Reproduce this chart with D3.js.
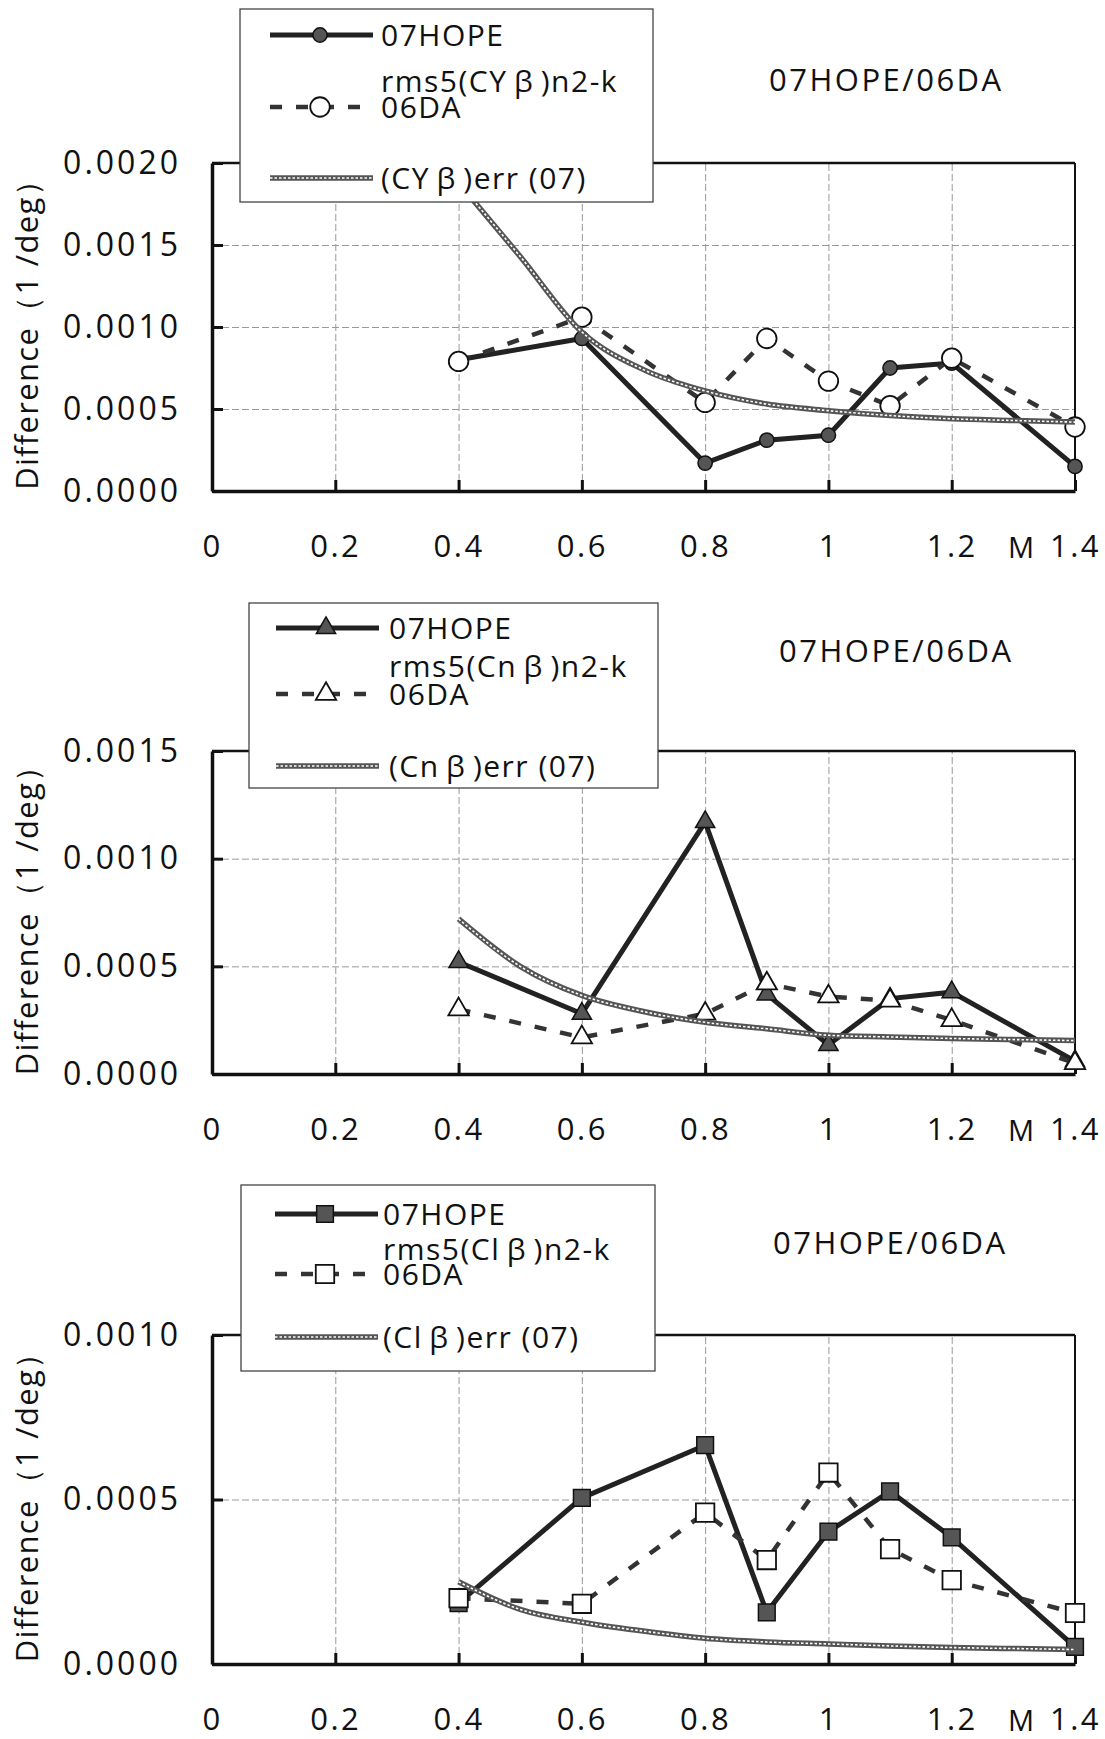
<!DOCTYPE html>
<html>
<head>
<meta charset="utf-8">
<script src="https://cdn.jsdelivr.net/npm/d3@7"></script>
<style>
  body { margin: 0; background: #fff; }
  text { font-family: "Open Sans", "Noto Sans", sans-serif; fill: #111; }
</style>
</head>
<body>
<script>
// Mach numbers of the measured points
var mach = [0.4, 0.6, 0.8, 0.9, 1.0, 1.1, 1.2, 1.4];
// Mach numbers of the error curve
var machErr = [0.4, 0.5, 0.6, 0.7, 0.8, 0.9, 1.0, 1.1, 1.2, 1.3, 1.4];

var xTicks = [0, 0.2, 0.4, 0.6, 0.8, 1, 1.2, 1.4];
var xTickLabels = ["0", "0.2", "0.4", "0.6", "0.8", "1", "1.2", "1.4"];

// CY beta
var cyHope = [0.00080, 0.00093, 0.00017, 0.00031, 0.00034, 0.00075, 0.00078, 0.00015];
var cyDa   = [0.00079, 0.00106, 0.00054, 0.00093, 0.00067, 0.00052, 0.00081, 0.00039];
var cyErr  = [0.00188, 0.00143, 0.00097, 0.00074, 0.00061, 0.00053, 0.00049, 0.00046, 0.00044, 0.00043, 0.00042];
var cyTicks = [0, 0.0005, 0.0010, 0.0015, 0.0020];

// Cn beta
var cnHope = [0.00052, 0.00028, 0.00117, 0.00037, 0.000135, 0.00035, 0.00038, 0.00006];
var cnDa   = [0.00030, 0.00017, 0.00028, 0.00042, 0.00036, 0.00034, 0.00025, 0.00005];
var cnErr  = [0.00072, 0.00050, 0.000365, 0.00029, 0.00024, 0.00021, 0.00018, 0.000172, 0.000165, 0.00016, 0.000155];
var cnTicks = [0, 0.0005, 0.0010, 0.0015];

// Cl beta
var clHope = [0.000185, 0.000505, 0.000665, 0.000157, 0.000402, 0.000525, 0.000385, 0.000052];
var clDa   = [0.000200, 0.000183, 0.000460, 0.000316, 0.000582, 0.000349, 0.000255, 0.000155];
var clErr  = [0.00025, 0.000166, 0.000127, 0.000100, 0.000078, 0.000067, 0.000061, 0.000055, 0.000050, 0.000047, 0.000044];
var clTicks = [0, 0.0005, 0.0010];

var titleText = "07HOPE/06DA";
var yTitle = "Difference\uFF081 /deg\uFF09";

var svg = d3.select("body").append("svg")
    .attr("width", 1105)
    .attr("height", 1739);

var x = d3.scaleLinear().domain([0, 1.4]).range([212, 1075]);

var panels = [
    { top: 163, bottom: 491, ymax: 0.0020, ticks: cyTicks, hope: cyHope, da: cyDa, err: cyErr,
      coef: "CY", shape: d3.symbolCircle, fillSize: 160, openSize: 300,
      title: [769, 80],
      legend: { x: 240, y: 9, w: 413, h: 193, e1: 35, rms: 81, da: 107, e3: 178, lx: 270, tx: 381 } },
    { top: 751, bottom: 1074, ymax: 0.0015, ticks: cnTicks, hope: cnHope, da: cnDa, err: cnErr,
      coef: "Cn", shape: d3.symbolTriangle, fillSize: 160, openSize: 180,
      title: [779, 651],
      legend: { x: 249, y: 603, w: 409, h: 185, e1: 628, rms: 666, da: 694, e3: 766, lx: 276, tx: 389 } },
    { top: 1335, bottom: 1664, ymax: 0.0010, ticks: clTicks, hope: clHope, da: clDa, err: clErr,
      coef: "Cl", shape: d3.symbolSquare, fillSize: 280, openSize: 340,
      title: [773, 1243],
      legend: { x: 241, y: 1185, w: 414, h: 186, e1: 1214, rms: 1249, da: 1274, e3: 1337, lx: 275, tx: 383 } }
];

// draw a "chain" style line used for the err curve
var drawChain = function (g, d) {
    g.append("path").attr("d", d)
        .attr("fill", "none").attr("stroke", "#555").attr("stroke-width", 5.5);
    g.append("path").attr("d", d)
        .attr("fill", "none").attr("stroke", "#fff").attr("stroke-width", 1.6)
        .attr("stroke-dasharray", "2.5,2");
};

panels.forEach(function (p) {
    var y = d3.scaleLinear().domain([0, p.ymax]).range([p.bottom, p.top]);
    var g = svg.append("g");
    var left = x(0), right = x(1.4);

    // gridlines
    g.append("g")
        .attr("transform", "translate(0," + p.bottom + ")")
        .call(d3.axisBottom(x).tickValues(xTicks.slice(1, -1)).tickSize(-(p.bottom - p.top)).tickFormat(""))
        .call(function (s) { s.select(".domain").remove(); })
        .selectAll("line").attr("stroke", "#999").attr("stroke-width", 1).attr("stroke-dasharray", "7,3");
    g.append("g")
        .attr("transform", "translate(" + left + ",0)")
        .call(d3.axisLeft(y).tickValues(p.ticks.slice(1, -1)).tickSize(-(right - left)).tickFormat(""))
        .call(function (s) { s.select(".domain").remove(); })
        .selectAll("line").attr("stroke", "#999").attr("stroke-width", 1).attr("stroke-dasharray", "7,3");

    // frame top/right
    g.append("line").attr("x1", left).attr("x2", right).attr("y1", p.top).attr("y2", p.top)
        .attr("stroke", "#111").attr("stroke-width", 2.5);
    g.append("line").attr("x1", right).attr("x2", right).attr("y1", p.top).attr("y2", p.bottom)
        .attr("stroke", "#111").attr("stroke-width", 2);

    // axes
    var xa = g.append("g")
        .attr("transform", "translate(0," + p.bottom + ")")
        .call(d3.axisBottom(x).tickValues(xTicks)
            .tickFormat(function (d, i) { return xTickLabels[i]; })
            .tickSizeInner(-11).tickSizeOuter(0).tickPadding(44));
    xa.select(".domain").attr("stroke", "#111").attr("stroke-width", 3.5);
    xa.selectAll(".tick line").attr("stroke", "#111").attr("stroke-width", 3);
    xa.selectAll("text").attr("font-size", 31).attr("letter-spacing", 2.5)
        .attr("font-family", "Open Sans").attr("fill", "#111");
    xa.append("text").attr("x", 1021).attr("y", 46).attr("dy", "0.71em")
        .attr("text-anchor", "middle").attr("font-size", 29).attr("font-family", "Open Sans")
        .attr("fill", "#111").text("M");

    var ya = g.append("g")
        .attr("transform", "translate(" + left + ",0)")
        .call(d3.axisLeft(y).tickValues(p.ticks).tickFormat(d3.format(".4f"))
            .tickSizeInner(-11).tickSizeOuter(0).tickPadding(31));
    ya.select(".domain").attr("stroke", "#111").attr("stroke-width", 3.5);
    ya.selectAll(".tick line").attr("stroke", "#111").attr("stroke-width", 3);
    ya.selectAll("text").attr("font-size", 32).attr("letter-spacing", 3)
        .attr("font-family", "Open Sans").attr("fill", "#111");

    // y title
    g.append("text")
        .attr("transform", "translate(38," + ((p.top + p.bottom) / 2) + ") rotate(-90)")
        .attr("text-anchor", "middle")
        .attr("font-size", 31)
        .attr("letter-spacing", 1.3)
        .text(yTitle);

    // series
    var line = d3.line().x(function (d) { return x(d[0]); }).y(function (d) { return y(d[1]); });
    var hopePts = d3.zip(mach, p.hope), daPts = d3.zip(mach, p.da), errPts = d3.zip(machErr, p.err);

    g.append("path").attr("d", line(hopePts))
        .attr("fill", "none").attr("stroke", "#222").attr("stroke-width", 5);
    g.selectAll(".hm").data(hopePts).enter().append("path")
        .attr("transform", function (d) { return "translate(" + x(d[0]) + "," + y(d[1]) + ")"; })
        .attr("d", d3.symbol().type(p.shape).size(p.fillSize))
        .attr("fill", "#555").attr("stroke", "#111").attr("stroke-width", 1.5);

    g.append("path").attr("d", line(daPts))
        .attr("fill", "none").attr("stroke", "#333").attr("stroke-width", 4.5)
        .attr("stroke-dasharray", "12,14");
    g.selectAll(".dm").data(daPts).enter().append("path")
        .attr("transform", function (d) { return "translate(" + x(d[0]) + "," + y(d[1]) + ")"; })
        .attr("d", d3.symbol().type(p.shape).size(p.openSize))
        .attr("fill", "#fff").attr("stroke", "#111").attr("stroke-width", 1.8);

    drawChain(g, line.curve(d3.curveMonotoneX)(errPts));

    // legend
    var L = p.legend;
    var lg = svg.append("g");
    lg.append("rect").attr("x", L.x).attr("y", L.y).attr("width", L.w).attr("height", L.h)
        .attr("fill", "#fff").attr("stroke", "#444").attr("stroke-width", 1.3);
    var mx = L.lx + 50, lx2 = L.lx + 103;
    lg.append("line").attr("x1", L.lx).attr("x2", lx2).attr("y1", L.e1).attr("y2", L.e1)
        .attr("stroke", "#222").attr("stroke-width", 5);
    lg.append("path").attr("transform", "translate(" + mx + "," + L.e1 + ")")
        .attr("d", d3.symbol().type(p.shape).size(p.fillSize))
        .attr("fill", "#555").attr("stroke", "#111").attr("stroke-width", 1.5);
    lg.append("line").attr("x1", L.lx).attr("x2", lx2).attr("y1", L.da).attr("y2", L.da)
        .attr("stroke", "#333").attr("stroke-width", 4.5).attr("stroke-dasharray", "12,14");
    lg.append("path").attr("transform", "translate(" + mx + "," + L.da + ")")
        .attr("d", d3.symbol().type(p.shape).size(p.openSize))
        .attr("fill", "#fff").attr("stroke", "#111").attr("stroke-width", 1.8);
    drawChain(lg, "M" + L.lx + "," + L.e3 + "H" + lx2);

    var ltext = function (yy) {
        return lg.append("text").attr("x", L.tx).attr("y", yy).attr("dy", "0.36em")
            .attr("font-size", 30).attr("letter-spacing", 1.5);
    };
    ltext(L.e1).text("07HOPE");
    // the 06DA series name wraps over two lines
    var two = ltext(L.rms);
    two.append("tspan").text("rms5(" + p.coef + "\u2009\u03B2\u2009)n2-k");
    two.append("tspan").attr("x", L.tx).attr("dy", L.da - L.rms).text("06DA");
    ltext(L.e3).text("(" + p.coef + "\u2009\u03B2\u2009)err (07)");

    // title
    svg.append("text").attr("x", p.title[0]).attr("y", p.title[1]).attr("dy", "0.36em")
        .attr("font-size", 31).attr("letter-spacing", 2.5)
        .text(titleText);
});
</script>
</body>
</html>
